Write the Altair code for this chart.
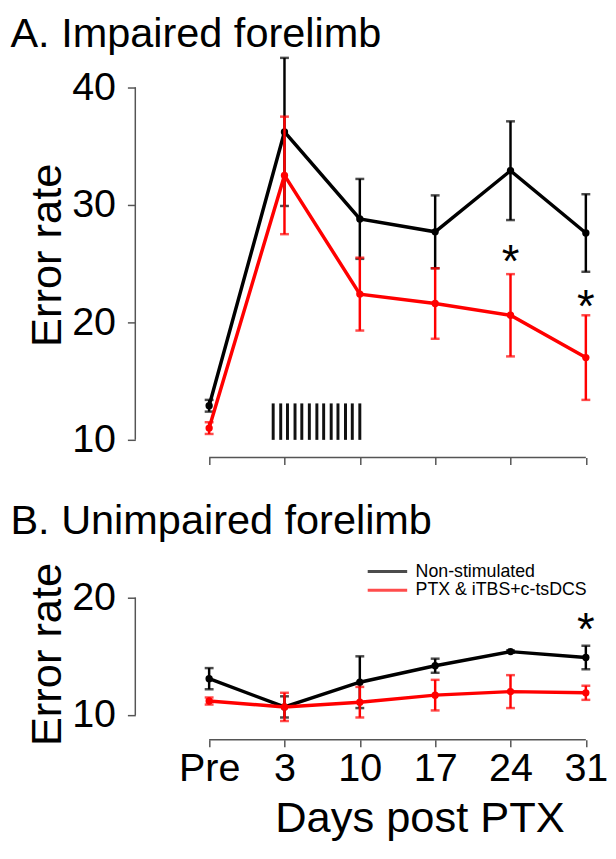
import json
import altair as alt
import pandas as pd

FONT = "Liberation Sans"

# ---------------- data ----------------
days = ["Pre", "3", "10", "17", "24", "31"]
day_idx = [0, 1, 2, 3, 4, 5]
groups = ["Non-stimulated", "PTX & iTBS+c-tsDCS"]
colors = ["#000000", "#ff0000"]

# Panel A: impaired forelimb (mean, s.e.m.)
a_ns_mean = [12.9, 36.2, 28.8, 27.7, 32.9, 27.6]
a_ns_err = [0.5, 6.3, 3.4, 3.1, 4.2, 3.3]
a_st_mean = [11.0, 32.5, 22.4, 21.6, 20.6, 17.0]
a_st_err = [0.5, 5.0, 3.1, 3.0, 3.5, 3.6]

# Panel B: unimpaired forelimb
b_ns_mean = [13.1, 10.7, 12.8, 14.2, 15.4, 14.9]
b_ns_err = [0.9, 0.9, 2.2, 0.6, 0.1, 1.0]
b_st_mean = [11.2, 10.7, 11.1, 11.7, 12.0, 11.9]
b_st_err = [0.3, 1.2, 1.3, 1.3, 1.4, 0.6]

# significance stars (x index, y value)
a_star_idx = [4, 5]
a_star_y = [25.6, 21.8]
b_star_idx = [5]
b_star_y = [17.7]

# stimulation sessions (x index positions), bars from 10 to 13.1
stim_idx = [0.85, 0.95, 1.04, 1.14, 1.23, 1.33, 1.43, 1.52, 1.62, 1.71, 1.81, 1.90, 2.00]
stim_lo = 10.0
stim_hi = 13.1

# ---------------- layout constants ----------------
XDOM = [-0.98, 5.15]
A_YDOM = [8.49, 43.0]
B_YDOM = [7.9, 22.5]
PX_PER_UNIT = 11.9
W = 468
A_H = round((A_YDOM[1] - A_YDOM[0]) * PX_PER_UNIT)
B_H = round((B_YDOM[1] - B_YDOM[0]) * PX_PER_UNIT)
AXIS_COLOR = "#555555"

label_expr = "%s[datum.value]" % json.dumps(days)


def make_series(ns_mean, ns_err, st_mean, st_err):
    rows = []
    for g, m, e in ((groups[0], ns_mean, ns_err), (groups[1], st_mean, st_err)):
        for i, mm, ee in zip(day_idx, m, e):
            rows.append({"group": g, "idx": i, "mean": mm, "lo": mm - ee, "hi": mm + ee})
    return pd.DataFrame(rows)


def panel(df, ydom, yticks, height, title, show_xlabels, legend, stars_idx, stars_y, stim=False):
    x_axis = alt.Axis(
        values=day_idx, domain=False, grid=False, tickSize=7, tickWidth=1.5,
        tickColor=AXIS_COLOR, labels=show_xlabels, labelExpr=label_expr,
        labelFont=FONT, labelFontSize=40, labelColor="black", labelPadding=2,
        title="Days post PTX" if show_xlabels else None,
        titleFont=FONT, titleFontSize=44, titleFontWeight="normal", titleColor="black",
        titlePadding=9, titleX=288,
    )
    y_axis = alt.Axis(
        values=yticks, domain=False, grid=False, tickSize=8, tickWidth=1.5,
        tickColor=AXIS_COLOR, labelFont=FONT, labelFontSize=40, labelColor="black",
        labelPadding=12, title="Error rate", titleFont=FONT, titleFontSize=44,
        titleFontWeight="normal", titleColor="black", titlePadding=2,
    )
    xs = alt.Scale(domain=XDOM, nice=False, zero=False)
    ys = alt.Scale(domain=ydom, nice=False, zero=False)

    def X(f):
        return alt.X(f, type="quantitative", scale=xs, axis=x_axis)

    def Y(f):
        return alt.Y(f, type="quantitative", scale=ys, axis=y_axis)

    color = alt.Color(
        "group:N", scale=alt.Scale(domain=groups, range=colors), legend=legend
    )

    layers = []

    # axis lines (R style: only span the tick range)
    yline = pd.DataFrame({"x": [XDOM[0]], "y": [min(yticks)], "y2": [max(yticks)]})
    layers.append(alt.Chart(yline).mark_rule(color=AXIS_COLOR, strokeWidth=1.5).encode(
        x=X("x"), y=Y("y"), y2="y2"))
    xline = pd.DataFrame({"x": [day_idx[0]], "x2": [day_idx[-1]], "y": [ydom[0]]})
    layers.append(alt.Chart(xline).mark_rule(color=AXIS_COLOR, strokeWidth=1.5).encode(
        x=X("x"), x2="x2", y=Y("y")))

    if stim:
        sdf = pd.DataFrame({"x": stim_idx, "y": [stim_lo] * len(stim_idx), "y2": [stim_hi] * len(stim_idx)})
        layers.append(alt.Chart(sdf).mark_rule(color="#111111", strokeWidth=3).encode(
            x=X("x"), y=Y("y"), y2="y2"))

    for g in groups:
        sub = df[df["group"] == g]
        b = alt.Chart(sub)
        layers.append(b.mark_line(strokeWidth=3.5).encode(x=X("idx"), y=Y("mean"), color=color))
        layers.append(b.mark_rule(strokeWidth=2.5).encode(x=X("idx"), y=Y("lo"), y2="hi", color=color))
        layers.append(b.mark_tick(orient="horizontal", size=9, thickness=2.5).encode(
            x=X("idx"), y=Y("lo"), color=color))
        layers.append(b.mark_tick(orient="horizontal", size=9, thickness=2.5).encode(
            x=X("idx"), y=Y("hi"), color=color))
        layers.append(b.mark_point(filled=True, size=55, opacity=1).encode(
            x=X("idx"), y=Y("mean"), color=color))

    star_df = pd.DataFrame({"x": stars_idx, "y": stars_y})
    layers.append(alt.Chart(star_df).mark_text(
        text="*", font=FONT, fontSize=46, baseline="alphabetic", dy=21, color="black"
    ).encode(x=X("x"), y=Y("y")))

    return alt.layer(*layers).properties(
        width=W, height=height,
        title=alt.TitleParams(title, font=FONT, fontSize=42, fontWeight="normal",
                              anchor="start", frame="bounds", color="black", **title_kw[title]),
    )


title_kw = {
    "A. Impaired forelimb": {"offset": -4, "dx": -16},
    "B. Unimpaired forelimb": {"offset": 20, "dx": -16},
}

dfa = make_series(a_ns_mean, a_ns_err, a_st_mean, a_st_err)
dfb = make_series(b_ns_mean, b_ns_err, b_st_mean, b_st_err)

legend_b = alt.Legend(
    orient="none", legendX=234, legendY=-6, title=None, symbolType="stroke",
    symbolSize=1600, symbolStrokeWidth=3, labelFont=FONT, labelFontSize=18,
    labelColor="black", labelOffset=7, labelLimit=400, clipHeight=19, rowPadding=0, padding=0,
)

pa = panel(dfa, A_YDOM, [10, 20, 30, 40], A_H, "A. Impaired forelimb", False, None,
           a_star_idx, a_star_y, stim=True)
pb = panel(dfb, B_YDOM, [10, 20], B_H, "B. Unimpaired forelimb", True, legend_b,
           b_star_idx, b_star_y)

chart = alt.vconcat(pa, pb, spacing=35).resolve_scale(color="independent").properties(
    padding={"left": 2, "top": 0, "right": 0, "bottom": 0}
).configure_view(stroke=None)

chart.save("out.html", embed_options={"renderer": "svg", "actions": False})
